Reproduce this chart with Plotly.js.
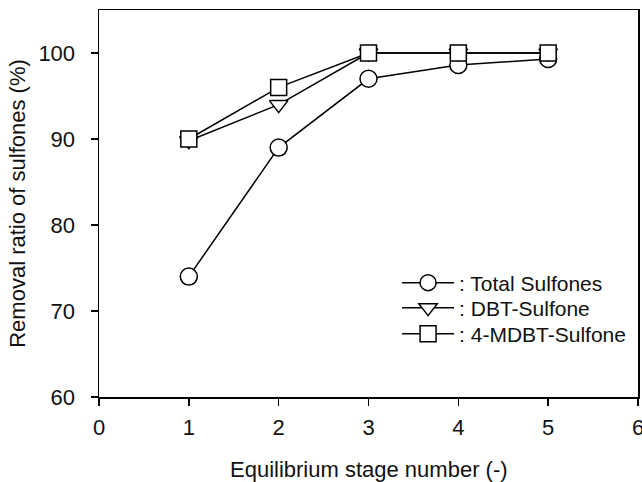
<!DOCTYPE html>
<html>
<head>
<meta charset="utf-8">
<script src="https://cdn.plot.ly/plotly-3.0.1.min.js"></script>
<style>html,body{margin:0;padding:0;background:#fff;}#chart{width:642px;height:482px;}</style>
</head>
<body>
<div id="chart"></div>
<script>
const stages = [1, 2, 3, 4, 5];
const totalSulfones = [74, 89, 97, 98.6, 99.3];
const dbtSulfone = [89.8, 94, 100, 100, 100];
const mdbtSulfone = [90, 96, 100, 100, 100];
const seriesNames = [': Total Sulfones', ': DBT-Sulfone', ': 4-MDBT-Sulfone'];
const xTicks = [0, 1, 2, 3, 4, 5, 6];
const yTicks = [60, 70, 80, 90, 100];
const xTitle = 'Equilibrium stage number (-)';
const yTitle = 'Removal ratio of sulfones (%)';

const FONT = '"Liberation Sans", Arial, sans-serif';
function mk(y, name, symbol, size, leg) {
  return {
    x: stages, y: y, name: name, type: 'scatter', mode: 'lines+markers',
    legend: leg,
    line: {color: '#000', width: 1.5},
    marker: {symbol: symbol, size: size, color: '#fff', line: {color: '#000', width: 1.5}}
  };
}
const data = [
  mk(totalSulfones, seriesNames[0], 'circle', 17, 'legend'),
  mk(dbtSulfone, seriesNames[1], 'triangle-down', 16, 'legend2'),
  mk(mdbtSulfone, seriesNames[2], 'square', 16, 'legend3')
];
const axisCommon = {
  showgrid: false, zeroline: false, showline: true, linecolor: '#000', linewidth: 1.5,
  mirror: true, ticks: 'outside', ticklen: 7, tickwidth: 1.5, tickcolor: '#000',
  ticklabeloverflow: 'allow',
  tickfont: {family: FONT, size: 22, color: '#111'}
};
function legendAt(y) {
  return {
    x: 0.553, y: y, xanchor: 'left', yanchor: 'middle',
    bgcolor: 'rgba(0,0,0,0)', borderwidth: 0,
    font: {family: FONT, size: 21, color: '#111'},
    itemwidth: 52
  };
}
const layout = {
  width: 642, height: 482,
  margin: {l: 99, r: 4, t: 10, b: 85},
  paper_bgcolor: '#fff', plot_bgcolor: '#fff',
  font: {family: FONT, color: '#111'},
  xaxis: Object.assign({}, axisCommon, {
    range: [0, 6], tickvals: xTicks, ticktext: xTicks.map(String),
    ticklabelstandoff: 3
  }),
  yaxis: Object.assign({}, axisCommon, {
    range: [60, 105], tickvals: yTicks, ticktext: yTicks.map(String),
    ticklabelstandoff: 11,
    title: {text: yTitle, font: {family: FONT, size: 22, color: '#111'}, standoff: 6}
  }),
  annotations: [{
    text: xTitle, xref: 'paper', yref: 'paper', x: 0.5, y: -0.1886,
    xanchor: 'center', yanchor: 'middle', showarrow: false,
    font: {family: FONT, size: 22, color: '#111'}
  }],
  showlegend: true,
  legend: legendAt(0.2946),
  legend2: legendAt(0.230),
  legend3: legendAt(0.1628)
};
Plotly.newPlot('chart', data, layout, {displayModeBar: false, staticPlot: true});
</script>
</body>
</html>
